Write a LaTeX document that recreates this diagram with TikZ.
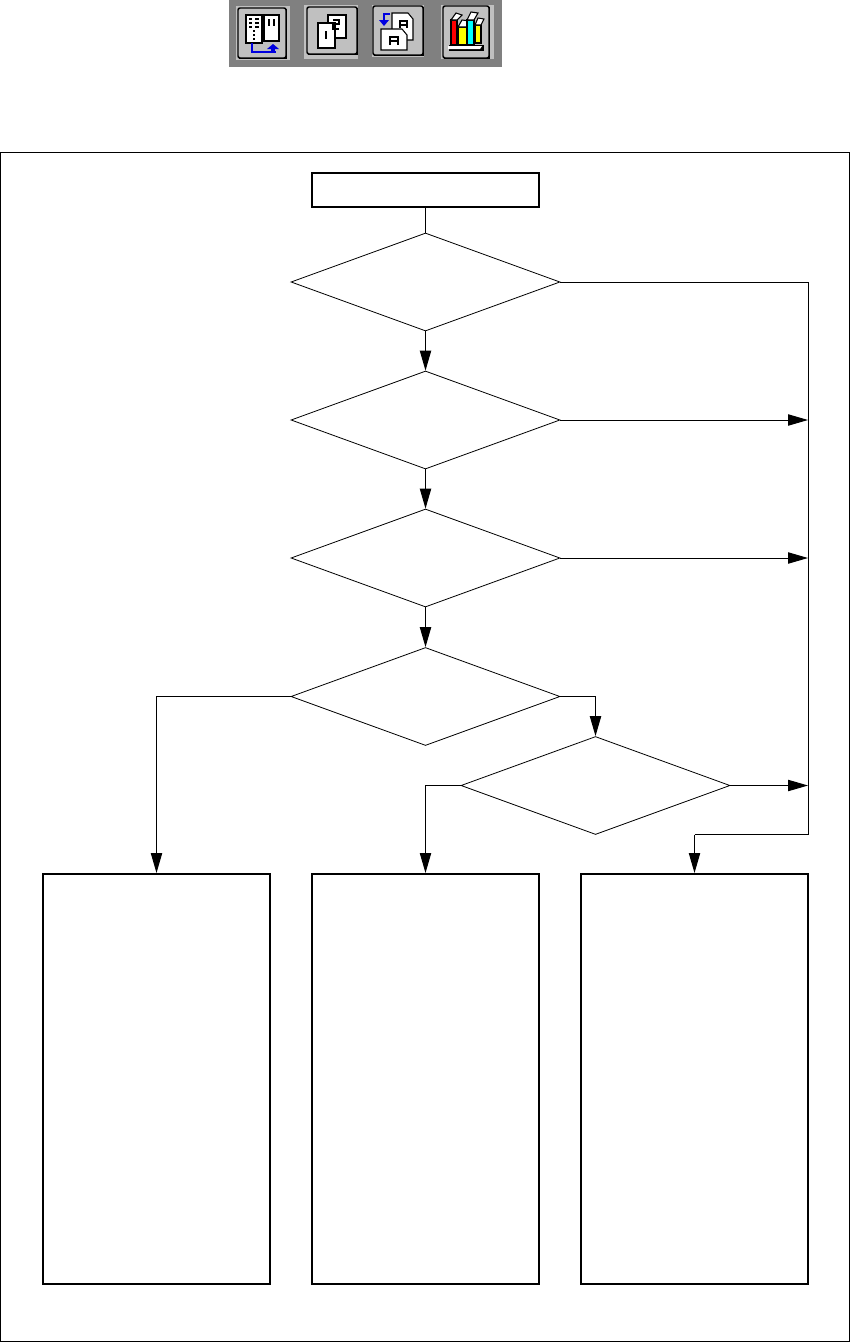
\documentclass[tikz,border=0pt]{standalone}
\usetikzlibrary{arrows.meta,shapes.geometric}
\definecolor{barg}{HTML}{808080}
\definecolor{face}{HTML}{C0C0C0}
\definecolor{iblue}{HTML}{0000E0}
\definecolor{bookred}{RGB}{255,0,0}
\definecolor{bookyellow}{RGB}{255,255,0}
\definecolor{bookcyan}{RGB}{0,255,255}
\tikzset{
  x=0.75pt,y=-0.75pt,
  framebox/.style={draw=black,line width=0.75pt},
  procbox/.style={draw=black,line width=1.5pt,fill=white,rectangle,inner sep=0pt,minimum width=170.25pt},
  decision/.style={draw=black,line width=0.6pt,fill=white,diamond,inner sep=0pt,shape aspect=2.745,minimum width=201.75pt,minimum height=73.5pt},
  link/.style={draw=black,line width=0.75pt},
  flow/.style={link,-{Triangle[length=15pt,width=8.5pt]}},
  btn/.style={draw=black,line width=1.1pt,fill=face,rounded corners=1.5pt},
  btnshade/.style={draw=black,line width=1.1pt},
  halo/.style={fill=face,draw=none},
  page/.style={draw=black,line width=0.8pt,fill=white},
  bluearrow/.style={draw=iblue,line width=1pt},
  tick/.style={draw=black,line width=0.8pt}
}
\begin{document}
\begin{tikzpicture}
\useasboundingbox (0,0) rectangle (851,1342);
\fill[white] (0,0) rectangle (851,1342);

% toolbar
\fill[barg] (229,0) rectangle (502,67);
% button 1
\fill[halo] (236,6) rectangle (290,60);
\draw[btn] (238,8) rectangle (286,58);
\draw[btnshade] (239,58.6) -- (286.6,58.6) -- (286.6,9);
\draw[page] (246,15) rectangle (262,43);
\draw[page] (264,15) rectangle (279,41);
\foreach \yy in {19,23,27}{\draw[tick] (249,\yy) -- (252,\yy) (255,\yy) -- (259,\yy);}
\foreach \yy in {31,35,39}{\draw[tick] (253,\yy) -- (255,\yy);}
\draw[tick] (269,19) -- (269,26) (274,19) -- (274,26);
\draw[bluearrow] (252,43) -- (252,52) -- (276,52);
\fill[iblue] (273,44) -- (279,49) -- (267,49) -- cycle;
\fill[iblue] (271,48) rectangle (275,52);
% button 2
\fill[halo] (304,5) rectangle (358,59);
\draw[btn] (307,7) rectangle (357,54);
\draw[btnshade] (308,54.6) -- (357.6,54.6) -- (357.6,8);
\draw[page] (328,15) rectangle (346,38);
\draw[page] (318,23) rectangle (335,48);
\draw[tick] (333,20) -- (339,20) -- (339,24) -- (333,24) -- (333,29) -- (339,29);
\draw[tick] (326,31) -- (326,39);
% button 3
\fill[halo] (372,5) rectangle (424,57);
\draw[btn] (373,6) rectangle (423,55);
\draw[btnshade] (374,55.6) -- (423.6,55.6) -- (423.6,7);
\draw[page] (392,13) -- (408,13) -- (413,19) -- (413,40) -- (392,40) -- cycle;
\draw[page] (381,29) -- (402,29) -- (407,35) -- (407,50) -- (381,50) -- cycle;
\draw[tick] (390,45) -- (390,37) -- (398,37) -- (398,45) (390,41) -- (398,41);
\draw[tick] (400,28) -- (400,21) -- (407,21) -- (407,28) (400,25) -- (407,25);
\draw[bluearrow,line width=1.6pt] (390,14) -- (384,14) -- (384,21);
\fill[iblue] (379,20) -- (389,20) -- (384,26) -- cycle;
% button 4
\fill[halo] (441,5) rectangle (494,59);
\draw[btn] (443,6) rectangle (489,58);
\draw[btnshade] (444,58.6) -- (489.6,58.6) -- (489.6,7);
\fill[black] (449,45) rectangle (484,51);
\fill[white] (448,46) -- (482,46) -- (480,49) -- (448,49) -- cycle;
\draw[tick,fill=bookred] (451,20) rectangle (457,45);
\draw[tick,fill=white] (451,20) -- (456,13) -- (462,15) -- (457,20) -- cycle;
\draw[tick,fill=bookyellow] (458,27) rectangle (467,45);
\draw[tick,fill=white] (458,27) -- (462,20) -- (470,21) -- (467,27) -- cycle;
\draw[tick,fill=bookcyan] (467,20) rectangle (474,45);
\draw[tick,fill=white] (467,20) -- (471,12) -- (478,13) -- (474,20) -- cycle;
\draw[tick,fill=bookyellow] (475,25) rectangle (481,43);
\draw[tick,fill=white] (475,25) -- (478,18) -- (484,19) -- (481,25) -- cycle;

% frame
\node[framebox,rectangle,inner sep=0pt,minimum width=636.75pt,minimum height=891.75pt] (outer) at (425,746.5) {};

% flow nodes
\node[procbox,minimum height=25.5pt] (start) at (425.5,190) {};
\node[decision] (d1) at (425.5,282) {};
\node[decision] (d2) at (425.5,420) {};
\node[decision] (d3) at (425.5,558) {};
\node[decision] (d4) at (425.5,696.5) {};
\node[decision] (d5) at (595.5,785.5) {};
\node[procbox,minimum height=307.5pt] (b1) at (156.5,1079) {};
\node[procbox,minimum height=307.5pt] (b2) at (425.5,1079) {};
\node[procbox,minimum height=307.5pt] (b3) at (694.5,1079) {};

\coordinate (trunktop) at (808,282);
\coordinate (trunkbot) at (808,834.5);

% connectors
\draw[link] (start) -- (d1);
\draw[flow] (d1) -- (d2);
\draw[flow] (d2) -- (d3);
\draw[flow] (d3) -- (d4);
\draw[link] (d1.east) -- (trunktop) -- (trunkbot) -- (trunkbot -| b3.north);
\draw[flow] (d2.east) -- (d2.east -| trunktop);
\draw[flow] (d3.east) -- (d3.east -| trunktop);
\draw[flow] (d5.east) -- (d5.east -| trunktop);
\draw[flow] (trunkbot -| b3.north) -- (b3.north);
\draw[flow] (d4.west) -| (b1.north);
\draw[flow] (d4.east) -| (d5.north);
\draw[flow] (d5.west) -| (b2.north);
\end{tikzpicture}
\end{document}
